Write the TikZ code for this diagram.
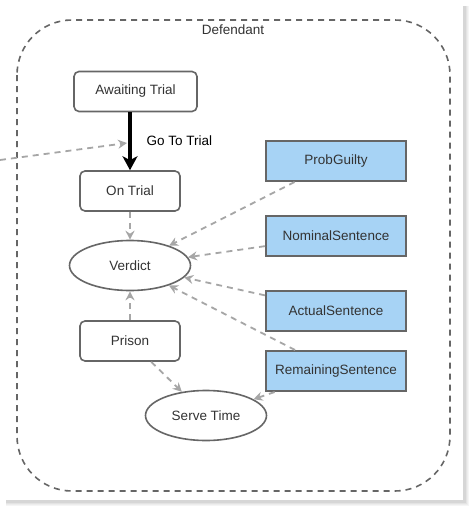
\documentclass[tikz,border=0pt]{standalone}
\usepackage{fontspec}
\setmainfont{Liberation Sans}
\usetikzlibrary{arrows.meta,shapes.geometric}
\definecolor{edgegray}{HTML}{666666}
\definecolor{dashgray}{HTML}{A6A6A6}
\definecolor{boxblue}{HTML}{A7D3F5}
\definecolor{txt}{HTML}{333333}
\tikzset{
  every node/.style={font=\fontsize{13.5}{15}\selectfont, text=txt},
  statebox/.style={draw=edgegray, line width=1.6pt, rounded corners=5pt, fill=white, minimum height=40pt, inner sep=0pt},
  varbox/.style={draw=edgegray, line width=2pt, fill=boxblue, minimum width=140pt, minimum height=40pt, inner sep=0pt},
  stateell/.style={draw=edgegray, line width=1.6pt, ellipse, fill=white, minimum width=121pt, minimum height=50pt, inner sep=0pt},
  link/.style={draw=dashgray, line width=1.8pt, dash pattern=on 6pt off 5pt, -{Stealth[length=9pt,width=9pt,inset=3pt]}},
  trans/.style={draw=black, line width=4pt, -{Stealth[length=14pt,width=15pt,inset=4pt]}}
}
\begin{document}
\begin{tikzpicture}[x=1pt,y=-1pt]
\useasboundingbox (0,0) rectangle (472,509);
\fill[white] (0,0) rectangle (472,509);
% card shadow (soft)
\fill[black!4] (6,6) rectangle (469,506);
\fill[black!7] (6,6) rectangle (468,505);
\fill[black!11] (6,6) rectangle (467,504);
\fill[black!16] (6,6) rectangle (466,503);
\fill[white] (5,5) rectangle (463,500);
% container
\draw[edgegray, line width=1.6pt, dash pattern=on 6pt off 5pt, rounded corners=55pt] (17,20) rectangle (450,491);
\node (deflabel) at (233,30) {Defendant};
% nodes
\node[statebox, minimum width=123pt] (await) at (135.5,91.5) {Awaiting Trial};
\node[statebox, minimum width=100pt] (ontrial) at (130,191) {On Trial};
\node[stateell] (verdict) at (130,265.5) {Verdict};
\node[statebox, minimum width=100pt] (prison) at (130,341) {Prison};
\node[stateell] (serve) at (206,415.5) {Serve Time};
\node[varbox] (pg) at (336,161) {ProbGuilty};
\node[varbox] (ns) at (336,236) {NominalSentence};
\node[varbox] (as) at (336,311) {ActualSentence};
\node[varbox] (rs) at (336,371) {RemainingSentence};
% transition
\draw[trans] (await.south -| ontrial.north) -- (ontrial.north);
\node[anchor=west, text=black] (gotrial) at (143,141) {Go To Trial};
\coordinate (gtin) at (0,160);
\coordinate (gtend) at (127,143);
\draw[link] (gtin) -- (gtend);
% links
\draw[link] (ontrial) -- (verdict);
\draw[link] (prison) -- (verdict);
\draw[link] (pg) -- (verdict);
\draw[link] (ns) -- (verdict);
\draw[link] (as) -- (verdict);
\draw[link] (rs) -- (verdict);
\draw[link] (prison) -- (serve);
\draw[link] (rs) -- (serve);
\end{tikzpicture}
\end{document}
